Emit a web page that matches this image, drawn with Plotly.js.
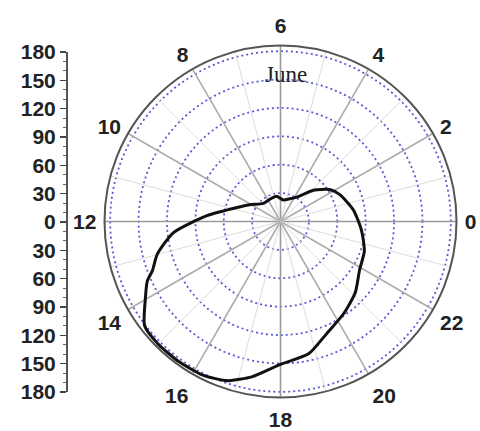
<!DOCTYPE html>
<html>
<head>
<meta charset="utf-8">
<script src="https://cdn.plot.ly/plotly-3.0.1.min.js"></script>
<style>html,body{margin:0;padding:0;background:#fff;}#chart{width:480px;height:431px;}</style>
</head>
<body>
<div id="chart"></div>
<script>
// Hour of day (0-24, counter-clockwise from the right) and radial value
var hours = [0.6, 1.6, 2.2, 2.9, 3.75, 4.5, 5.5, 6.6, 7.7, 8.9, 10.1, 10.7, 11.7, 12.4, 13.0, 13.4, 13.6, 14.0, 14.5, 15.0, 15.6, 16.2, 16.6, 16.8, 17.3, 18.0, 18.8, 19.5, 20.3, 21.1, 21.9, 22.7, 23.6];
var values = [78, 69, 62, 48, 31, 26, 23, 27, 26, 26.5, 37, 46, 78, 114, 135, 145, 154, 165, 181, 183, 183, 182, 179, 177, 167, 151, 143, 128, 118, 109, 98, 94, 86];
var hourTicks = [0, 2, 4, 6, 8, 10, 12, 14, 16, 18, 20, 22];
var radialTicks = [30, 60, 90, 120, 150, 180];
var scaleTicks = [-180, -150, -120, -90, -60, -30, 0, 30, 60, 90, 120, 150, 180];
var monthLabel = 'June';

var DEG_PER_HOUR = 15;
var RMAX = 186;

var theta = hours.map(function (h) { return h * DEG_PER_HOUR; });
theta.push(theta[0]);
var r = values.slice();
r.push(values[0]);

var traces = [];
// spokes every hour
for (var h = 0; h < 24; h++) {
  var major = (h % 2 === 0);
  traces.push({
    type: 'scatterpolar', mode: 'lines',
    r: [0, RMAX], theta: [h * DEG_PER_HOUR, h * DEG_PER_HOUR],
    line: {color: major ? ((h % 6 === 0) ? '#9a9a9a' : '#acacac') : '#dcdcdc', width: major ? 1.6 : 1},
    hoverinfo: 'skip', showlegend: false
  });
}
traces.push({
  type: 'scatterpolar', mode: 'lines',
  r: r, theta: theta,
  line: {color: '#111', width: 3, shape: 'spline', smoothing: 0.6},
  showlegend: false
});
// dummy trace to show the left scale axis
traces.push({
  type: 'scatter', x: [0.5], y: [0], xaxis: 'x', yaxis: 'y',
  mode: 'markers', marker: {opacity: 0}, hoverinfo: 'skip', showlegend: false
});

var labelFont = {family: 'Liberation Sans, Arial, sans-serif', size: 21, color: '#222', weight: 'bold'};

var layout = {
  width: 480, height: 431,
  margin: {l: 0, r: 0, t: 0, b: 0},
  paper_bgcolor: '#fff', plot_bgcolor: 'rgba(0,0,0,0)',
  showlegend: false,
  polar: {
    domain: {x: [104.5 / 480, 456.5 / 480], y: [(431 - 397.5) / 431, (431 - 45.5) / 431]},
    bgcolor: '#fff',
    radialaxis: {
      range: [0, RMAX], tickvals: radialTicks, showticklabels: false, ticks: '',
      showline: false, gridcolor: '#5a5ad8', griddash: '2px,3px', gridwidth: 1.8
    },
    angularaxis: {
      direction: 'counterclockwise', rotation: 0,
      tickvals: hourTicks.map(function (h) { return h * DEG_PER_HOUR; }),
      ticktext: hourTicks.map(String),
      tickfont: labelFont,
      ticks: 'outside', ticklen: 3, tickcolor: 'rgba(0,0,0,0)',
      showgrid: false,
      showline: true, linecolor: '#555', linewidth: 2
    }
  },
  xaxis: {domain: [68 / 480, 0.16], range: [0, 1], visible: false, fixedrange: true},
  yaxis: {
    domain: [(431 - 392) / 431, (431 - 52) / 431],
    range: [-180, 180], anchor: 'x',
    tickvals: scaleTicks, ticktext: scaleTicks.map(function (v) { return String(Math.abs(v)); }),
    tickfont: labelFont,
    ticks: 'outside', ticklen: 6, tickwidth: 1.5, tickcolor: '#444',
    minor: {dtick: 10, ticks: 'outside', ticklen: 3, tickcolor: '#666', tickwidth: 1},
    showline: true, linecolor: '#555', linewidth: 2,
    showgrid: false, zeroline: false, fixedrange: true
  },
  annotations: [{
    text: monthLabel, xref: 'paper', yref: 'paper',
    x: 286 / 480, y: 1 - 74 / 431, xanchor: 'center', yanchor: 'middle',
    showarrow: false,
    font: {family: 'Liberation Serif, Times New Roman, serif', size: 23, color: '#222'}
  }]
};

Plotly.newPlot('chart', traces, layout, {staticPlot: true, displayModeBar: false});
</script>
</body>
</html>
